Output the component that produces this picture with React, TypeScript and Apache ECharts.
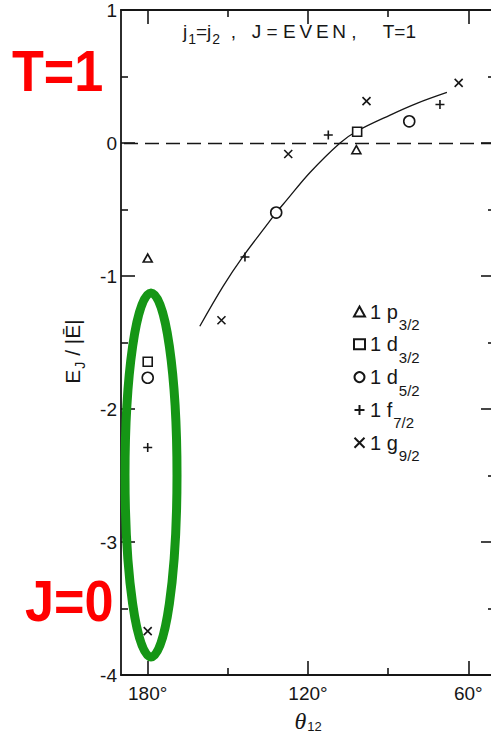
import React, { useEffect, useRef } from 'react';
import * as echarts from 'echarts';

// Orbital labels: principal number, orbital letter, j
const ORBITALS = ['1p3/2', '1d3/2', '1d5/2', '1f7/2', '1g9/2'];

// (theta12 in degrees, E_J / |E|)
const P32 = [[180, -0.865], [101.9, -0.05]];
const D32 = [[180, -1.645], [101.6, 0.085]];
const D52 = [[180, -1.765], [131.9, -0.523], [82.1, 0.163]];
const F72 = [[180, -2.29], [143.6, -0.857], [112.4, 0.06], [70.6, 0.29]];
const G92 = [[180, -3.67], [152.4, -1.333], [127.4, -0.083], [98.1, 0.315], [63.6, 0.452]];

// Guide curve through the points
const CURVE = [
  [160.5, -1.378], [151.8, -1.078], [144.3, -0.853], [134.9, -0.603], [131.9, -0.523],
  [128, -0.43], [119.25, -0.222], [108, 0], [101.6, 0.09], [89.25, 0.21], [79.25, 0.298], [68, 0.38],
];

const THETA_MAJOR = [60, 120, 180];
const THETA_MINOR = [90, 150];
const THETA_RANGE = [50, 190];
const ENERGY_RANGE = [-4, 1];

const INK = '#161616';
const FONT = '"Liberation Sans", Arial, sans-serif';
const THIN = '\u2009';

const PLUS = 'path://M5,0L5,10M0,5L10,5';
const CROSS = 'path://M0,0L10,10M10,0L0,10';

const lineStyle = { color: INK, width: 1.8 };
const tickStyle = { color: INK, width: 1.6 };

function thetaAxis(position: string, ticks: number[], len: number, showLine: boolean, extra: any = {}) {
  return {
    type: 'value',
    position,
    min: THETA_RANGE[0],
    max: THETA_RANGE[1],
    inverse: true,
    splitLine: { show: false },
    axisLine: { show: showLine, onZero: false, lineStyle },
    axisTick: { show: true, inside: true, length: len, customValues: ticks, lineStyle: tickStyle },
    axisLabel: { show: false },
    ...extra,
  };
}

function energyAxis(position: string, extra: any = {}) {
  return {
    type: 'value',
    position,
    min: ENERGY_RANGE[0],
    max: ENERGY_RANGE[1],
    interval: 1,
    splitLine: { show: false },
    axisLine: { show: true, onZero: false, lineStyle },
    axisTick: { show: true, inside: true, length: 14, lineStyle: tickStyle },
    minorTick: { show: true, splitNumber: 2, length: 7, lineStyle: tickStyle },
    axisLabel: { show: false },
    ...extra,
  };
}

function scatter(name: string, data: number[][], symbol: string, size: any, filled: boolean) {
  return {
    name,
    type: 'scatter',
    data,
    symbol,
    symbolSize: size,
    z: 5,
    itemStyle: {
      color: filled ? '#ffffff' : 'rgba(0,0,0,0)',
      borderColor: INK,
      borderWidth: 1.6,
      opacity: 1,
    },
  };
}

const main = (size: number) => ({ fontSize: size, lineHeight: size + 2, fontFamily: FONT, fontWeight: 'normal', color: INK });
const sub = (size: number, drop: number) => ({
  fontSize: size, lineHeight: size + 2, padding: [drop, 0, 0, 1], fontFamily: FONT, fontWeight: 'normal', color: INK,
});

const EVEN = ['E', 'V', 'E', 'N'].join(THIN);

export default function App() {
  const ref = useRef<HTMLDivElement>(null);

  useEffect(() => {
    if (!ref.current) return;
    const chart = echarts.init(ref.current, undefined, { renderer: 'svg' });
    chart.setOption({
      animation: false,
      backgroundColor: '#ffffff',
      textStyle: { fontFamily: FONT, color: INK },
      grid: { left: 121, top: 10, bottom: 60, right: -4, containLabel: false, outerBoundsMode: 'none' },
      title: {
        text: `{m|j}{s|1}{m|=j}{s|2}{m|  ,   J = ${EVEN} ,     T=1}`,
        left: 183,
        top: 21,
        padding: 0,
        textStyle: {
          fontWeight: 'normal',
          rich: { m: main(19), s: sub(14, 14) },
        },
      },
      legend: {
        orient: 'vertical',
        left: 348,
        top: 286,
        itemWidth: 11,
        itemHeight: 10,
        itemGap: -8.2,
        data: ORBITALS,
        formatter: (name: string) => `{m|${name[0]} ${name[1]}}{s|${name.slice(2)}}`,
        textStyle: {
          rich: { m: main(20), s: sub(15, 26) },
        },
      },
      xAxis: [
        thetaAxis('bottom', THETA_MAJOR, 14, true, {
          axisLabel: {
            show: true,
            customValues: THETA_MAJOR,
            formatter: '{value}°',
            fontSize: 19,
            margin: 9,
            color: INK,
            fontFamily: FONT,
          },
          name: '{t|θ}{s|12}',
          nameLocation: 'middle',
          nameGap: 34,
          nameTextStyle: {
            rich: {
              t: { fontSize: 24, fontStyle: 'italic', fontFamily: '"Liberation Serif", serif', color: INK, lineHeight: 24 },
              s: { fontSize: 13, lineHeight: 14, padding: [10, 0, 0, 1], fontFamily: FONT, color: INK },
            },
          },
        }),
        thetaAxis('bottom', THETA_MINOR, 7, false),
        thetaAxis('top', THETA_MAJOR, 14, true),
        thetaAxis('top', THETA_MINOR, 7, false),
      ],
      yAxis: [
        energyAxis('left', {
          axisLabel: { show: true, fontSize: 19, margin: 4, color: INK, fontFamily: FONT },
          name: '{m|E}{s|J}{m| / |Ē|}',
          nameLocation: 'middle',
          nameRotate: 90,
          nameGap: 37,
          nameTextStyle: {
            padding: [0, 18, 0, 0],
            rich: { m: main(21), s: sub(14, 14) },
          },
        }),
        energyAxis('right'),
      ],
      series: [
        {
          name: 'curve',
          type: 'line',
          data: CURVE,
          smooth: 0.35,
          showSymbol: false,
          z: 2,
          lineStyle: { color: INK, width: 1.3 },
          markLine: {
            silent: true,
            symbol: ['none', 'none'],
            label: { show: false },
            lineStyle: { color: INK, width: 1.4, type: [14, 7] },
            data: [{ yAxis: 0 }],
          },
        },
        scatter(ORBITALS[0], P32, 'triangle', [9, 8], true),
        scatter(ORBITALS[1], D32, 'rect', 9, true),
        scatter(ORBITALS[2], D52, 'circle', 11, true),
        scatter(ORBITALS[3], F72, PLUS, 9, false),
        scatter(ORBITALS[4], G92, CROSS, 8, false),
      ],
      graphic: [
        {
          type: 'ellipse',
          z: 100,
          shape: { cx: 151, cy: 475, rx: 26, ry: 182 },
          style: { fill: 'none', stroke: '#159615', lineWidth: 9 },
        },
        {
          type: 'text',
          z: 100,
          x: 12,
          y: 71.5,
          scaleX: 0.9,
          style: { text: 'T=1', fill: '#ff0000', font: 'bold 58px "Liberation Sans", Arial, sans-serif', verticalAlign: 'middle', align: 'left' },
        },
        {
          type: 'text',
          z: 100,
          x: 25,
          y: 601,
          scaleX: 0.9,
          style: { text: 'J=0', fill: '#ff0000', font: 'bold 58px "Liberation Sans", Arial, sans-serif', verticalAlign: 'middle', align: 'left' },
        },
      ],
    });
    return () => chart.dispose();
  }, []);

  return (
    <div
      ref={ref}
      style={{ position: 'fixed', left: 0, top: 0, width: 491, height: 735, background: '#fff' }}
    />
  );
}
